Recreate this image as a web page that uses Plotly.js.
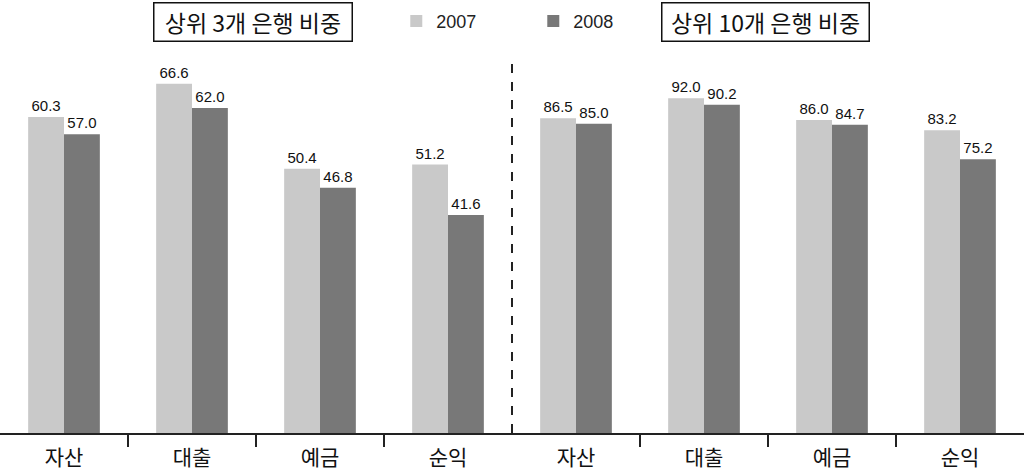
<!DOCTYPE html>
<html><head><meta charset="utf-8">
<script src="https://cdn.plot.ly/plotly-3.0.1.min.js"></script>
<style>html,body{margin:0;padding:0;background:#fff}#chart{width:1024px;height:472px}</style>
</head><body><div id="chart"></div>
<script>
const categories = ['자산','대출','예금','순익','자산','대출','예금','순익'];
const top3_2007 = [60.3, 66.6, 50.4, 51.2];
const top3_2008 = [57.0, 62.0, 46.8, 41.6];
const top10_2007 = [86.5, 92.0, 86.0, 83.2];
const top10_2008 = [85.0, 90.2, 84.7, 75.2];
const groupTitles = ['상위 3개 은행 비중', '상위 10개 은행 비중'];
const years = ['2007', '2008'];

const xLeft = [0,1,2,3], xRight = [4,5,6,7];
const c07 = '#c9c9c9', c08 = '#787878';
const lblFont = {family: 'Liberation Sans Narrow, Liberation Sans, sans-serif', size: 15, color: '#111'};
function bar(x, y, name, color, yaxis, show){
  return {type:'bar', x:x, y:y, name:name, yaxis:yaxis, showlegend:show, legendgroup:name,
    marker:{color:color, line:{width:0}}, text:y.map(v=>v.toFixed(1)), textposition:'outside',
    textfont:lblFont, cliponaxis:false, hoverinfo:'skip'};
}
const data = [
  bar(xLeft, top3_2007, years[0], c07, 'y', true),
  bar(xLeft, top3_2008, years[1], c08, 'y', true),
  bar(xRight, top10_2007, years[0], c07, 'y2', false),
  bar(xRight, top10_2008, years[1], c08, 'y2', false)
];
const layout = {
  width:1024, height:472, margin:{l:0,r:0,t:0,b:39},
  paper_bgcolor:'#fff', plot_bgcolor:'#fff',
  barmode:'group', bargap:0.44, bargroupgap:0,
  font:{family:'Noto Sans CJK KR, sans-serif', color:'#111'},
  xaxis:{range:[-0.5,7.5], tickmode:'array', tickvals:[0,1,2,3,4,5,6,7], ticktext:categories,
    ticks:'', showline:true, linecolor:'#222', linewidth:2, showgrid:false, zeroline:false, ticklabelstandoff:5,
    tickfont:{family:'Noto Sans CJK KR, sans-serif', size:21, color:'#111'},
    minor:{tickmode:'array', tickvals:[0.5,1.5,2.5,4.5,5.5,6.5], ticks:'outside', ticklen:12, tickwidth:2, tickcolor:'#222', showgrid:false}},
  yaxis:{range:[0,82.6], visible:false, fixedrange:true},
  yaxis2:{range:[0,119], visible:false, overlaying:'y'},
  showlegend:true,
  legend:{orientation:'h', x:0.387, xanchor:'left', y:0.951, yanchor:'middle', entrywidth:92, entrywidthmode:'pixels',
    font:{family:'Liberation Sans, sans-serif', size:18, color:'#222'}, bgcolor:'rgba(0,0,0,0)'},
  shapes:[{type:'line', xref:'x', x0:3.5, x1:3.5, yref:'paper', y0:0, y1:0.873, line:{color:'#222', width:2, dash:'dash'}}],
  annotations:[
    {text:groupTitles[0], xref:'paper', yref:'paper', x:252.5/1024, y:0.950, xanchor:'center', yanchor:'middle', showarrow:false, width:195, height:35,
     bordercolor:'#111', borderwidth:1.5, borderpad:1, font:{size:23, color:'#111'}},
    {text:groupTitles[1], xref:'paper', yref:'paper', x:765/1024, y:0.950, xanchor:'center', yanchor:'middle', showarrow:false, width:204, height:35,
     bordercolor:'#111', borderwidth:1.5, borderpad:1, font:{size:23, color:'#111'}}
  ]
};
Plotly.newPlot('chart', data, layout, {staticPlot:true});
</script></body></html>
